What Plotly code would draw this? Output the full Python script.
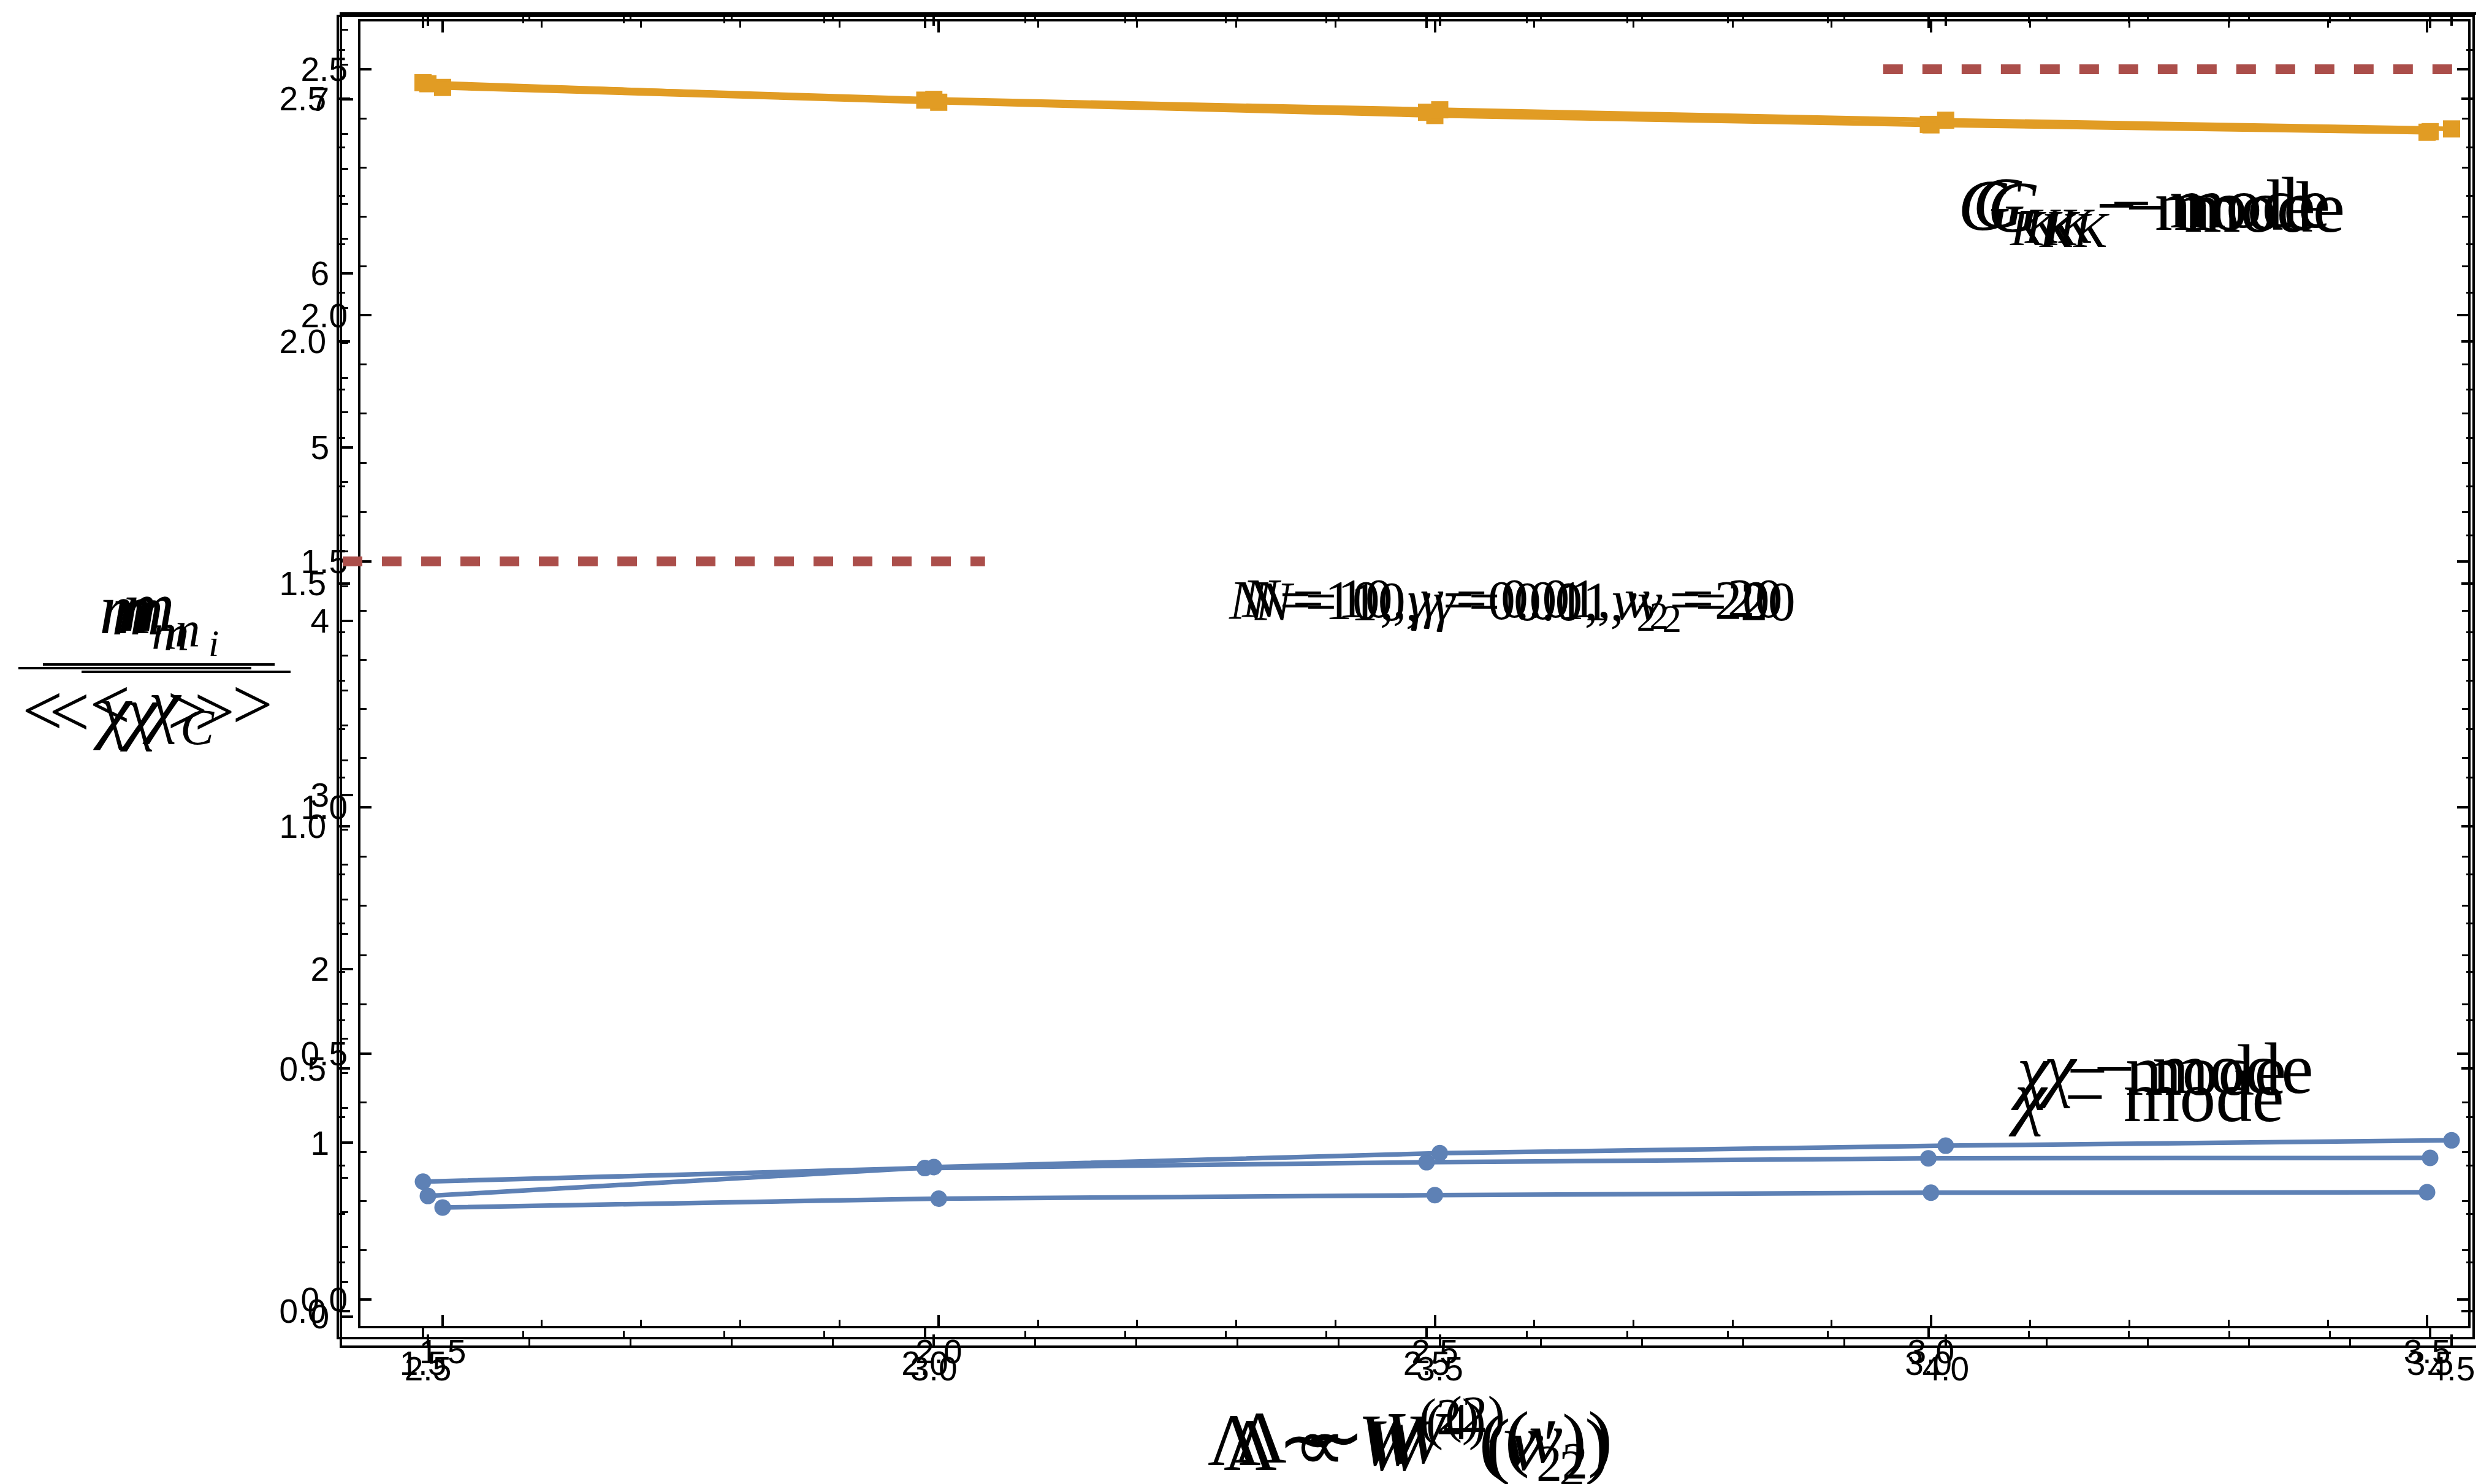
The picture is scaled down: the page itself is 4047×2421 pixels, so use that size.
import plotly.graph_objects as go

W, H = 4047, 2421

# ---------------- data ----------------
# three overlaid Mathematica plots (frames A, B, C)
x_ab = [1.5, 2.0, 2.5, 3.0, 3.5]
x_c = [2.5, 3.0, 3.5, 4.0, 4.5]

gkk_a = [2.463, 2.433, 2.406, 2.387, 2.372]
chi_a = [0.187, 0.205, 0.212, 0.217, 0.218]

gkk_b = [2.533, 2.497, 2.472, 2.447, 2.432]
chi_b = [0.267, 0.295, 0.307, 0.315, 0.316]

gkk_c = [7.09, 7.00, 6.94, 6.88, 6.83]
chi_c = [0.694, 0.860, 0.940, 0.983, 1.014]

bound_low_x = [1.42, 2.06]
bound_low_y = [1.5, 1.5]
bound_high_x = [2.955, 3.525]
bound_high_y = [2.5, 2.5]

xt_ab = [1.5, 2.0, 2.5, 3.0, 3.5]
xt_c = [2.5, 3.0, 3.5, 4.0, 4.5]
yt_ab = [0.0, 0.5, 1.0, 1.5, 2.0, 2.5]
yt_c = [0, 1, 2, 3, 4, 5, 6, 7]

# ---------------- frame geometry (pixels) ----------------
frames = {
    "A": dict(L=580, R=4018, T=27, B=2155, px0=714, x0=1.5, sx=1618.5, py0=2112, sy=802.8),
    "B": dict(L=545, R=4025, T=20, B=2173, px0=682, x0=1.5, sx=1637.0, py0=2131, sy=791.2),
    "C": dict(L=550, R=4047, T=16, B=2187, px0=690, x0=2.5, sx=1650.5, py0=2140, sy=283.7),
}


def fx(px):
    return px / W


def fy(py):
    return 1 - py / H


def xr(f):
    return [f["x0"] + (f["L"] - f["px0"]) / f["sx"], f["x0"] + (f["R"] - f["px0"]) / f["sx"]]


def yr(f):
    return [(f["py0"] - f["B"]) / f["sy"], (f["py0"] - f["T"]) / f["sy"]]


BLUE = "#5E81B5"
ORANGE = "#E19C24"
RED = "#AB4E4A"
LW = 7.5

fig = go.Figure()


def add_pair(xs, g, c, xa, ya):
    fig.add_trace(go.Scatter(x=xs, y=c, mode="lines+markers", xaxis=xa, yaxis=ya,
                             line=dict(color=BLUE, width=LW),
                             marker=dict(symbol="circle", size=27, color=BLUE, line=dict(width=0)),
                             showlegend=False, cliponaxis=False))
    fig.add_trace(go.Scatter(x=xs, y=g, mode="lines+markers", xaxis=xa, yaxis=ya,
                             line=dict(color=ORANGE, width=LW),
                             marker=dict(symbol="square", size=28, color=ORANGE, line=dict(width=0)),
                             showlegend=False, cliponaxis=False))


add_pair(x_c, gkk_c, chi_c, "x3", "y3")
add_pair(x_ab, gkk_b, chi_b, "x2", "y2")
add_pair(x_ab, gkk_a, chi_a, "x", "y")

for bx, by in [(bound_low_x, bound_low_y), (bound_high_x, bound_high_y)]:
    fig.add_trace(go.Scatter(x=bx, y=by, mode="lines", xaxis="x2", yaxis="y",
                             line=dict(color=RED, width=16, dash="32px,32px"),
                             showlegend=False))

tickfont = dict(family="Liberation Sans, Arial, sans-serif", size=55, color="black")


def axis(f, horizontal, vals, texts, minor_dt, anchor, mirror="ticks", standoff=0):
    d = dict(
        showline=True, linecolor="black", linewidth=4, mirror=mirror,
        ticks="inside", ticklen=18, tickwidth=3.5, tickcolor="black",
        showgrid=False, zeroline=False, tickfont=tickfont,
        tickmode="array", tickvals=vals, ticktext=texts,
        minor=dict(ticks="inside", ticklen=10, tickwidth=3, tickcolor="black",
                   tickmode="linear", tick0=0, dtick=minor_dt, showgrid=False),
        anchor=anchor, fixedrange=True, ticklabelstandoff=standoff,
    )
    if horizontal:
        d["domain"] = [fx(f["L"]), fx(f["R"])]
        d["range"] = xr(f)
    else:
        d["domain"] = [fy(f["B"]), fy(f["T"])]
        d["range"] = yr(f)
    return d


A, B, C = frames["A"], frames["B"], frames["C"]
fmt = lambda v: f"{v:.1f}"

fig.update_layout(
    width=W, height=H,
    margin=dict(l=0, r=0, t=0, b=0),
    paper_bgcolor="white", plot_bgcolor="rgba(0,0,0,0)",
    xaxis=axis(A, True, xt_ab, [fmt(v) for v in xt_ab], 0.1, "y", standoff=-9),
    yaxis=axis(A, False, yt_ab, [fmt(v) for v in yt_ab], 0.1, "x", standoff=6),
    xaxis2=axis(B, True, xt_ab, [fmt(v) for v in xt_ab], 0.1, "y2", standoff=-8),
    yaxis2=axis(B, False, yt_ab, [fmt(v) for v in yt_ab], 0.1, "x2", standoff=6),
    xaxis3=axis(C, True, xt_c, [fmt(v) for v in xt_c], 0.1, "y3", standoff=-13),
    yaxis3=axis(C, False, yt_c, [str(v) for v in yt_c], 0.2, "x3", mirror=False, standoff=6),
)

SERIF = "Liberation Serif, Times New Roman, serif"


def label(text, x_left, baseline, size):
    fig.add_annotation(text=text, x=fx(x_left), y=fy(baseline - 0.34 * size),
                       xref="paper", yref="paper", xanchor="left", yanchor="middle",
                       showarrow=False, font=dict(family=SERIF, size=size, color="black"))


# G_KK - mode
gk = "<i>G</i><sub><i>KK</i></sub> \u2212 mode"
for xl, bl in [(3184, 376), (3208, 372), (3232, 379)]:
    label(gk, xl, bl, 118)

# chi - mode
ch = "<i>\u03c7</i> \u2212 mode"
for xl, bl in [(3270, 1779), (3314, 1776), (3266, 1822)]:
    label(ch, xl, bl, 118)

# parameters
par = "<i>N</i> = 10, <i>\u03b3</i> = 0.01, <i>v</i><sub>2</sub> = 20"
for xl, bl in [(1994, 1009), (2015, 1006), (2036, 1011)]:
    label(par, xl, bl, 90)

# x axis title
xt1 = "\u039b \u223c <i>W</i><sup>(2)</sup>(<i>v</i><sub>2</sub>)"
xt2 = "\u039b \u221d <i>W</i><sup>(4)</sup>(<i>v</i>\u2032<sub>2</sub>)"
for txt, xl, bl in [(xt1, 1960, 2382), (xt2, 1986, 2390), (xt1, 2002, 2378)]:
    label(txt, xl, bl, 120)

# y axis title (fraction)
num = "<i>m</i><sub><i>n</i></sub>"
for xl, bl in [(152, 1034), (172, 1036), (190, 1030)]:
    label(num, xl, bl, 118)
label("<i>i</i>", 330, 1062, 62)

d1 = "&lt;\u00a0\u00a0<i>\u03c7</i>\u00a0\u00a0&gt;"
d2 = "&lt;\u00a0<i>\u03c7</i><sub><i>C</i></sub>\u00a0&gt;"
for txt, xl, bl in [(d1, 26, 1192), (d1, 70, 1194), (d2, 136, 1190)]:
    label(txt, xl, bl, 118)

for x0, x1, yy in [(62, 440, 1076), (22, 402, 1082), (125, 466, 1088)]:
    fig.add_shape(type="line", xref="paper", yref="paper",
                  x0=fx(x0), x1=fx(x1), y0=fy(yy), y1=fy(yy),
                  line=dict(color="black", width=4))

fig.write_html("out.html")
